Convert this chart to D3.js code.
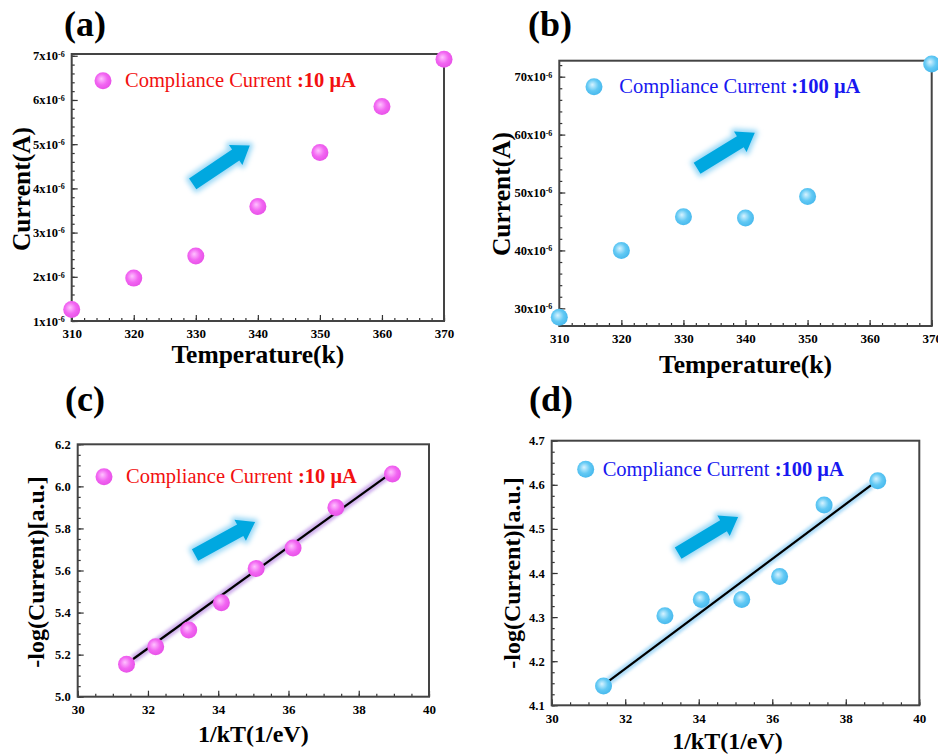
<!DOCTYPE html>
<html>
<head>
<meta charset="utf-8">
<script src="https://cdn.jsdelivr.net/npm/d3@7"></script>
<style>
body{margin:0;background:#fff;}
text{font-family:"Liberation Serif","Times New Roman",serif;}
</style>
</head>
<body>
<script>
const WIDTH=938, HEIGHT=755;
const R=8.5;

// ---- data ----
// (a) compliance 10 uA : current vs temperature (units 1e-6 A)
const tempA=[310,320,330,340,350,360,370];
const currentA=[1.26,1.97,2.47,3.59,4.81,5.85,6.92];
// (b) compliance 100 uA (units 1e-6 A)
const tempB=[310,320,330,340,350,370];
const currentB=[28.45,40.0,45.8,45.6,49.3,72.2];
// (c) -log(I) vs 1/kT, 10 uA
const invKTc=[31.39,32.22,33.16,34.09,35.08,36.13,37.35,38.96];
const logIc=[5.154,5.238,5.317,5.447,5.609,5.707,5.900,6.059];
const fitC=[[31.57,5.178],[38.80,6.049]];
// (d) -log(I) vs 1/kT, 100 uA
const invKTd=[31.41,33.08,34.07,35.17,36.20,37.41,38.87];
const logId=[4.144,4.303,4.340,4.340,4.392,4.554,4.609];
const fitD=[[31.54,4.154],[38.70,4.600]];

// tick labels
const ticksTemp=[310,320,330,340,350,360,370];
const ticksA=[1,2,3,4,5,6,7];
const ticksB=[30,40,50,60,70];
const ticksKT=[30,32,34,36,38,40];
const ticksC=[5.0,5.2,5.4,5.6,5.8,6.0,6.2];
const ticksD=[4.1,4.2,4.3,4.4,4.5,4.6,4.7];

// arrows (data coords of tail and head)
const arrowA=[[329.5,4.10],[338.7,4.97]];
const arrowB=[[332.2,54.2],[341.5,60.3]];
const arrowC=[[33.34,5.674],[35.05,5.83]];
const arrowD=[[33.44,4.445],[35.07,4.527]];

const svg=d3.select("body").append("svg").attr("width",WIDTH).attr("height",HEIGHT);
const defs=svg.append("defs");

function sphere(id,light,base,dark){
  const gr=defs.append("radialGradient").attr("id",id)
    .attr("cx","45%").attr("cy","45%").attr("r","60%").attr("fx","40%").attr("fy","38%");
  gr.append("stop").attr("offset","0%").attr("stop-color",light);
  gr.append("stop").attr("offset","55%").attr("stop-color",base);
  gr.append("stop").attr("offset","100%").attr("stop-color",dark);
}
sphere("pink","#ffc2ff","#f266f2","#e64ee6");
sphere("blue","#d8f3ff","#62c9f4","#43b6ec");

const glow=defs.append("filter").attr("id","glow").attr("x","-30%").attr("y","-30%").attr("width","160%").attr("height","160%");
glow.append("feGaussianBlur").attr("stdDeviation",2.5);
const soft=defs.append("filter").attr("id","soft").attr("x","-10%").attr("y","-10%").attr("width","120%").attr("height","120%");
soft.append("feGaussianBlur").attr("stdDeviation",1.5);

function drawArrow(g,x,y,a){
  const p0=[x(a[0][0]),y(a[0][1])], p1=[x(a[1][0]),y(a[1][1])];
  const L=Math.hypot(p1[0]-p0[0],p1[1]-p0[1]);
  const ang=Math.atan2(p1[1]-p0[1],p1[0]-p0[0])*180/Math.PI;
  const hw=6.5, HW=12, HL=17;
  const pts=[[0,-hw],[L-HL,-hw],[L-HL,-HW],[L,0],[L-HL,HW],[L-HL,hw],[0,hw]].join(" ");
  const ag=g.append("g").attr("transform",`translate(${p0[0]},${p0[1]}) rotate(${ang})`);
  ag.append("polygon").attr("points",pts).attr("fill","#9ad8f6").attr("stroke","#9ad8f6")
    .attr("stroke-width",6).attr("stroke-linejoin","round").attr("filter","url(#glow)");
  ag.append("polygon").attr("points",pts).attr("fill","#00a8e0");
}

function panel(o){
  const g=svg.append("g");
  const x=d3.scaleLinear().domain(o.xDomain).range([o.left,o.right]);
  const y=d3.scaleLinear().domain(o.yDomain).range([o.bottom,o.top]);

  // minor ticks
  g.append("g").attr("transform",`translate(0,${o.bottom})`)
    .call(d3.axisBottom(x).tickValues(o.xMinor).tickSize(-3).tickFormat(""))
    .call(a=>a.select(".domain").remove());
  g.append("g").attr("transform",`translate(${o.left},0)`)
    .call(d3.axisLeft(y).tickValues(o.yMinor).tickSize(-3).tickFormat(""))
    .call(a=>a.select(".domain").remove());
  // major ticks
  const xa=g.append("g").attr("transform",`translate(0,${o.bottom})`)
    .call(d3.axisBottom(x).tickValues(o.xTicks).tickSize(-6).tickPadding(8).tickFormat(o.xFmt))
    .call(a=>a.select(".domain").remove());
  xa.selectAll("text").attr("font-family","Liberation Serif").attr("font-size",13).attr("font-weight","bold").attr("fill","#000");
  const ya=g.append("g").attr("transform",`translate(${o.left},0)`)
    .call(d3.axisLeft(y).tickValues(o.yTicks).tickSize(-6).tickPadding(7).tickFormat(o.yFmt))
    .call(a=>a.select(".domain").remove());
  ya.selectAll("text").attr("font-family","Liberation Serif").attr("font-size",12.5).attr("font-weight","bold").attr("fill","#000");
  if(o.sup){
    ya.selectAll("text").each(function(d){
      const t=d3.select(this).text("");
      t.append("tspan").text(d+"x10");
      t.append("tspan").attr("dy","-0.45em").attr("font-size",8).text("-6");
    });
  }
  g.selectAll(".tick line").attr("stroke","#333").attr("stroke-width",1.2);

  // frame
  g.append("rect").attr("x",o.left).attr("y",o.top)
    .attr("width",o.right-o.left).attr("height",o.bottom-o.top)
    .attr("fill","none").attr("stroke","#444").attr("stroke-width",2);

  // fit line
  if(o.fit){
    const ln=d3.line().x(d=>x(d[0])).y(d=>y(d[1]));
    g.append("path").attr("d",ln(o.fit)).attr("stroke",o.glow).attr("stroke-width",8)
      .attr("fill","none").attr("opacity",0.85).attr("filter","url(#soft)");
    g.append("path").attr("d",ln(o.fit)).attr("stroke","#000").attr("stroke-width",2.2).attr("fill","none");
  }

  drawArrow(g,x,y,o.arrow);

  // points
  g.append("g").selectAll("circle").data(o.xs).join("circle")
    .attr("cx",d=>x(d)).attr("cy",(d,i)=>y(o.ys[i])).attr("r",R)
    .attr("fill",`url(#${o.marker})`);

  // legend
  g.append("circle").attr("cx",o.leg[0]).attr("cy",o.leg[1]).attr("r",R).attr("fill",`url(#${o.marker})`);
  const lt=g.append("text").attr("x",o.leg[2]).attr("y",o.leg[3]).attr("font-size",20.5).attr("fill",o.legColor);
  lt.append("tspan").text("Compliance Current ");
  lt.append("tspan").attr("font-weight","bold").text(o.legBold);

  // titles
  g.append("text").attr("x",(o.left+o.right)/2+o.xtOff[0]).attr("y",o.xtOff[1])
    .attr("text-anchor","middle").attr("font-size",o.tSize).attr("font-weight","bold").text(o.xTitle);
  g.append("text").attr("transform",`translate(${o.ytPos[0]},${o.ytPos[1]}) rotate(-90)`)
    .attr("text-anchor","middle").attr("font-size",o.tSize).attr("font-weight","bold").text(o.yTitle);
  g.append("text").attr("x",o.lab[0]).attr("y",o.lab[1]).attr("text-anchor","middle")
    .attr("font-size",36).attr("font-weight","bold").text(o.label);
}

panel({
  left:71.7,right:444,top:54,bottom:321,
  xDomain:[310,370],yDomain:[1,7.04],
  xTicks:ticksTemp,xMinor:d3.range(310,371,2),xFmt:d3.format("d"),
  yTicks:ticksA,yMinor:d3.range(1,7.01,0.2),yFmt:d=>d,sup:true,
  xs:tempA,ys:currentA,marker:"pink",arrow:arrowA,
  leg:[103,80.7,125,87],legColor:"#f21010",legBold:":10 \u03bcA",
  tSize:25.5,xTitle:"Temperature(k)",xtOff:[0,363],yTitle:"Current(A)",ytPos:[30,189],
  label:"(a)",lab:[85,36]
});
panel({
  left:559.3,right:931.7,top:60.7,bottom:326,
  xDomain:[310,370],yDomain:[26.95,72.76],
  xTicks:ticksTemp,xMinor:d3.range(310,371,2),xFmt:d3.format("d"),
  yTicks:ticksB,yMinor:d3.range(28,72.1,2),yFmt:d=>d,sup:true,
  xs:tempB,ys:currentB,marker:"blue",arrow:arrowB,
  leg:[594,86.7,619.3,93],legColor:"#1818f0",legBold:":100 \u03bcA",
  tSize:25.5,xTitle:"Temperature(k)",xtOff:[0,373],yTitle:"Current(A)",ytPos:[510,194],
  label:"(b)",lab:[550,36]
});
panel({
  left:77.7,right:429,top:444.3,bottom:696.7,
  xDomain:[30,40],yDomain:[5.0,6.2],
  xTicks:ticksKT,xMinor:d3.range(30,40.01,0.5),xFmt:d3.format("d"),
  yTicks:ticksC,yMinor:d3.range(5,6.201,0.05),yFmt:d3.format(".1f"),
  xs:invKTc,ys:logIc,marker:"pink",arrow:arrowC,fit:fitC,glow:"#c7a3ea",
  leg:[104,476.7,126,483],legColor:"#f21010",legBold:":10 \u03bcA",
  tSize:24,xTitle:"1/kT(1/eV)",xtOff:[0,742],yTitle:"-log(Current)[a.u.]",ytPos:[44,572],
  label:"(c)",lab:[85,411]
});
panel({
  left:551.7,right:919.3,top:440.7,bottom:705.3,
  xDomain:[30,40],yDomain:[4.1,4.7],
  xTicks:ticksKT,xMinor:d3.range(30,40.01,0.5),xFmt:d3.format("d"),
  yTicks:ticksD,yMinor:d3.range(4.1,4.701,0.025),yFmt:d3.format(".1f"),
  xs:invKTd,ys:logId,marker:"blue",arrow:arrowD,fit:fitD,glow:"#9fd6f7",
  leg:[585.7,469.3,602.7,476],legColor:"#1818f0",legBold:":100 \u03bcA",
  tSize:24,xTitle:"1/kT(1/eV)",xtOff:[-8,749],yTitle:"-log(Current)[a.u.]",ytPos:[520,573],
  label:"(d)",lab:[551,411]
});
</script>
</body>
</html>
